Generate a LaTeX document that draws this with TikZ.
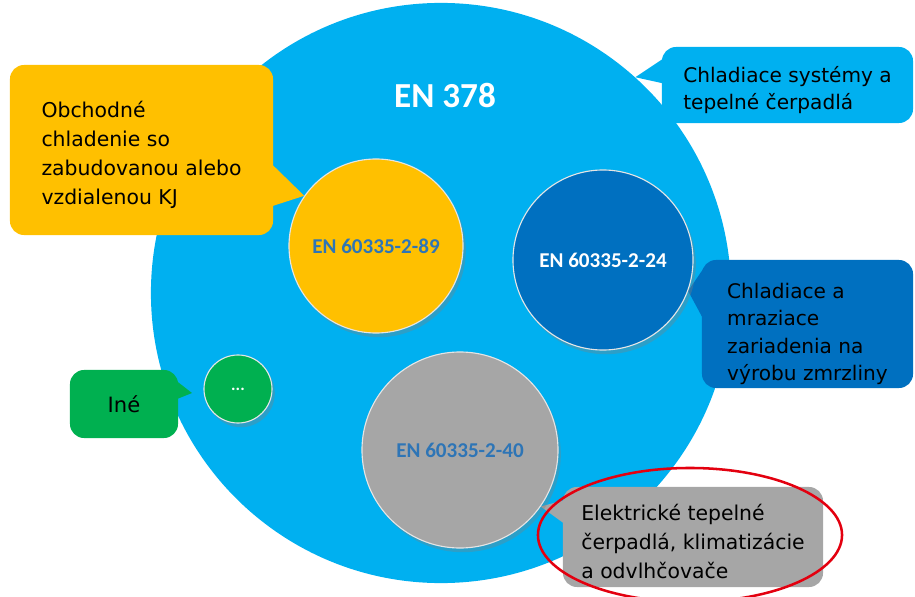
\documentclass[tikz,border=0pt]{standalone}
\usepackage{fontspec}
\setmainfont{DejaVu Sans}
\newfontfamily\calfont{Carlito}
\usetikzlibrary{calc,shapes.geometric,shadows}

\definecolor{enBlue}{HTML}{00B0F0}
\definecolor{enYellow}{HTML}{FFC000}
\definecolor{enDark}{HTML}{0070C0}
\definecolor{enGreen}{HTML}{00B050}
\definecolor{enGray}{HTML}{A6A6A6}
\definecolor{enLabel}{HTML}{2E75B6}
\definecolor{enRed}{HTML}{E3000F}

\newcommand{\topgap}[1]{\rule{0pt}{#1}}

\pgfdeclarelayer{back}
\pgfdeclarelayer{tails}
\pgfsetlayers{back,tails,main}

\begin{document}
\begin{tikzpicture}[
        x=0.025cm, y=-0.025cm,
        disc/.style={circle, draw=white!80!gray, line width=0.8pt, inner sep=0pt,
                     font=\calfont\bfseries\fontsize{15}{18}\selectfont,
                     drop shadow={shadow xshift=2pt, shadow yshift=-3pt, opacity=0.35}},
        bubble/.style={rectangle, rounded corners=10pt, inner ysep=0pt, align=left, text=black,
                       font=\fontsize{14.5}{20.6}\selectfont}
      ]
        \useasboundingbox (0,0) rectangle (915,597);

        \begin{pgfonlayer}{back}
        \node[circle, fill=enBlue, minimum size=14.5cm, inner sep=0pt] (big) at (441,293) {};
        \end{pgfonlayer}
        \node[text=white, font=\calfont\bfseries\fontsize{25}{30}\selectfont] (title) at (445,95) {EN 378};

        \node[disc, fill=enYellow, text=enLabel, minimum size=4.35cm] (c89) at (376,246) {EN 60335-2-89};
        \node[disc, fill=enDark, text=white, minimum size=4.5cm] (c24) at (603,260) {EN 60335-2-24};
        \node[disc, fill=enGray, text=enLabel, minimum size=4.9cm] (c40) at (460,450) {EN 60335-2-40};
        \node[disc, fill=enGreen, text=white, minimum size=1.7cm,
              font=\calfont\bfseries\fontsize{12}{14}\selectfont] (dots) at (238,389) {...};
        \coordinate (dotsTip) at (192,393);

        \node[bubble, fill=enYellow, minimum width=6.575cm, minimum height=4.25cm] (coolTxt) at (141.5,150)
              {\topgap{18.5pt}Obchodné\\chladenie so\\zabudovanou alebo\\vzdialenou KJ};
        \node[bubble, fill=enBlue, minimum width=6.275cm, minimum height=1.9cm,
              font=\fontsize{14.3}{19.2}\selectfont] (sysTxt) at (787.5,85)
              {\topgap{18pt}Chladiace systémy a\\tepelné čerpadlá};
        \node[bubble, fill=enDark, minimum width=5.275cm, minimum height=3.2cm,
              font=\fontsize{14.3}{19.6}\selectfont] (iceTxt) at (807.5,324)
              {\topgap{25pt}Chladiace a\\mraziace\\zariadenia na\\výrobu zmrzliny};
        \node[bubble, fill=enGreen, minimum width=2.7cm, minimum height=1.7cm,
              font=\fontsize{15}{18}\selectfont] (otherTxt) at (124,404)
              {Iné};
        \node[bubble, fill=enGray, minimum width=6.5cm, minimum height=2.5cm] (pumpTxt) at (693,537)
              {\topgap{18pt}Elektrické tepelné\\čerpadlá, klimatizácie\\a odvlhčovače};

        \begin{pgfonlayer}{tails}
        \fill[enYellow] ($(coolTxt.north east)+(-3,98)$) -- (c89.145) -- ($(coolTxt.north east)+(-3,142)$) -- cycle;
        \fill[enBlue] ($(sysTxt.north west)+(3,11)$) -- (big.48) -- ($(sysTxt.north west)+(3,37)$) -- cycle;
        \fill[enDark] ($(iceTxt.north west)+(3,7)$) -- (c24.-20) -- ($(iceTxt.north west)+(3,62)$) -- cycle;
        \fill[enGreen] ($(otherTxt.north east)+(-15,1)$) -- (dotsTip) -- ($(otherTxt.north east)+(-3,30)$) -- cycle;
        \fill[enGray] ($(pumpTxt.north west)+(3,13)$) -- (c40.-35) -- ($(pumpTxt.north west)+(3,38)$) -- cycle;
        \end{pgfonlayer}

        \node[ellipse, draw=enRed, line width=1.8pt, minimum width=7.6cm, minimum height=3.35cm] (mark) at (690,535) {};
      \end{tikzpicture}
\end{document}
